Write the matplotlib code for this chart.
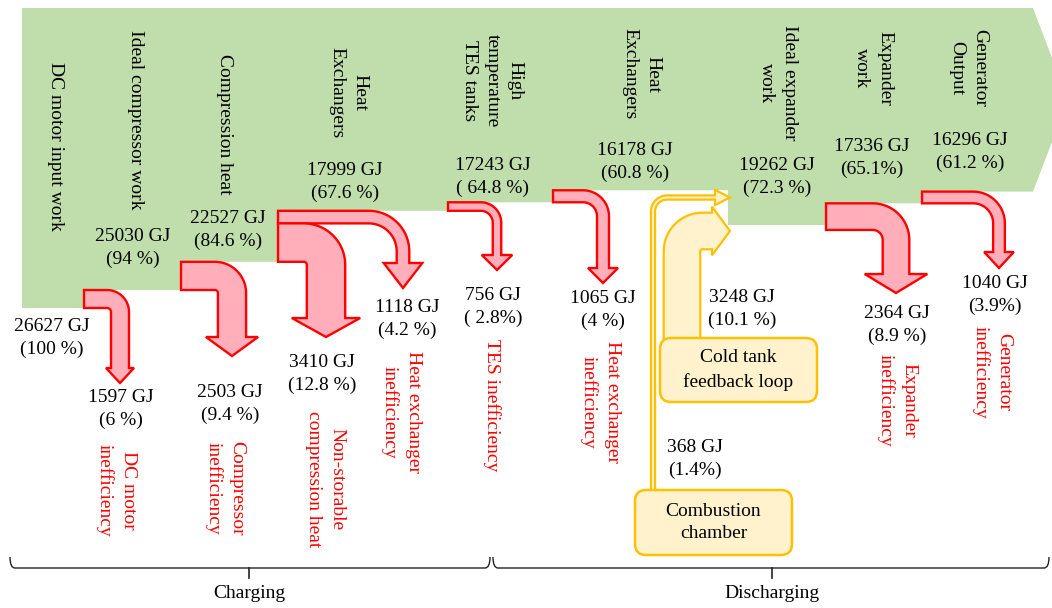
import numpy as np
import matplotlib
matplotlib.use("Agg")
import matplotlib.pyplot as plt
from matplotlib.patches import Polygon, FancyBboxPatch, PathPatch
from matplotlib.path import Path

plt.rcParams["font.family"] = ["Liberation Serif", "DejaVu Serif"]

# ---------------- data ----------------
stage_labels = ["DC motor input work", "Ideal compressor work", "Compression heat",
                "Heat\nExchangers", "High\ntemperature\nTES tanks", "Heat\nExchangers",
                "Ideal expander\nwork", "Expander\nwork", "Generator\nOutput"]
stage_gj = [26627, 25030, 22527, 17999, 17243, 16178, 19262, 17336, 16296]
stage_pct = ["100 %", "94 %", "84.6 %", "67.6 %", " 64.8 %", "60.8 %",
             "72.3 %", "65.1%", "61.2 %"]

loss_labels = ["DC motor\ninefficiency", "Compressor\ninefficiency",
               "Heat exchanger\ninefficiency", "Non-storable\ncompression heat",
               "TES inefficiency", "Heat exchanger\ninefficiency",
               "Expander\ninefficiency", "Generator\ninefficiency"]
loss_gj = [1597, 2503, 1118, 3410, 756, 1065, 2364, 1040]
loss_pct = ["6 %", "9.4 %", "4.2 %", "12.8 %", " 2.8%", "4 %", "8.9 %", "3.9%"]
# stage boundary at which each loss leaves the main flow
loss_stage = [1, 2, 3, 3, 4, 5, 7, 8]

feed_labels = ["Combustion\nchamber", "Cold tank\nfeedback loop"]
feed_gj = [368, 3248]
feed_pct = ["1.4%", "10.1 %"]

phase_labels = ["Charging", "Discharging"]

# ---------------- layout ----------------
W, H = 1052, 608
TOP = 8
BAND_PX = 300                       # height of the 100 % flow
SCALE = BAND_PX / stage_gj[0]       # pixels per GJ
FS = 14
LS = 1.45

stage_x = [22, 84, 181, 278, 448, 553, 728, 826, 922, 1033]
tip_len = 35

stage_label_pos = [(55, 146), (135, 120), (224, 124), (348, 93), (492, 81),
                   (641, 74), (778, 83), (873, 68), (968, 68)]
stage_value_pos = [(52, 338), (133, 248), (228, 230), (345, 182), (493, 177),
                   (635, 162), (777, 177), (872, 158), (970, 152)]

loss_shaft_x = [120, 232, 403, 326, 497, 603, 896, 999]
loss_tip_y = [383, 356, 288, 337, 270, 283, 293, 268]
loss_r_in = [4, 3, 28, 3, 12, 14, 10, 20]
loss_head_extra = [5, 12, 13, 15, 11, 9, 18, 9]
loss_head_len = [15, 19, 25, 19, 15, 15, 19, 16]
loss_value_pos = [(121, 409), (230, 404), (407, 319), (322, 374), (493, 307),
                  (603, 310), (897, 325), (995, 295)]
loss_label_pos = [(116, 490), (225, 488), (401, 412), (325, 479), (492, 405),
                  (600, 402), (897, 400), (992, 372)]

feed_box = [(635, 490, 157, 65), (660, 338, 157, 64)]
feed_shaft_x = [653, 682]
feed_band_y = [197.5, 231]
feed_tip_x = [730, 730]
feed_r_in = [12, 2]
feed_head_extra = [5.5, 6]
feed_head_len = [15, 18]
feed_value_pos = [(695, 459), (742, 309)]

GREEN = "#C0DDAC"
PINK = "#FFAEBA"
RED = "#FF0000"
CREAM = "#FFF2CC"
GOLD = "#FFC000"


def depth(v):
    return TOP + v * SCALE


def arc(cx, cy, r, t0, t1, n=24):
    t = np.radians(np.linspace(t0, t1, n))
    return list(zip(cx + r * np.cos(t), cy - r * np.sin(t)))


def drop_arrow(x0, y0, w, xc, y_tip, r_in, head_extra, head_len):
    """Band leaving to the right, bending down into an arrow."""
    r_out = r_in + w
    cx = xc - w / 2 - r_in
    cy = y0 + r_out
    yb = y_tip - head_len
    pts = [(x0, y0)]
    pts += arc(cx, cy, r_out, 90, 0)
    pts += [(cx + r_out, yb), (xc + w / 2 + head_extra, yb), (xc, y_tip),
            (xc - w / 2 - head_extra, yb), (cx + r_in, yb)]
    pts += arc(cx, cy, r_in, 0, 90)
    pts += [(x0, y0 + w)]
    return pts


def rise_arrow(xs, y_bot, yc, w, x_tip, r_in, head_extra, head_len):
    """Band rising from below, bending right into an arrow."""
    r_out = r_in + w
    cx = xs + w / 2 + r_in
    cy = yc + w / 2 + r_in
    xb = x_tip - head_len
    pts = [(xs - w / 2, y_bot)]
    pts += arc(cx, cy, r_out, 180, 90)
    pts += [(xb, yc - w / 2), (xb, yc - w / 2 - head_extra), (x_tip, yc),
            (xb, yc + w / 2 + head_extra), (xb, yc + w / 2)]
    pts += arc(cx, cy, r_in, 90, 180)
    pts += [(xs + w / 2, y_bot)]
    return pts


fig = plt.figure(figsize=(W / 100, H / 100), dpi=100)
ax = fig.add_axes([0, 0, 1, 1])
ax.set_xlim(0, W)
ax.set_ylim(H, 0)
ax.axis("off")

# ---- main energy flow ----
last = depth(stage_gj[-1])
outline = [(stage_x[0], TOP), (stage_x[-1], TOP),
           (stage_x[-1] + tip_len, (TOP + last) / 2), (stage_x[-1], last)]
for i in range(len(stage_gj) - 1, -1, -1):
    y = depth(stage_gj[i])
    outline += [(stage_x[i + 1], y), (stage_x[i], y)]
ax.add_patch(Polygon(outline, closed=True, fc=GREEN, ec="none", zorder=1))

# ---- losses ----
stack = {}
for i, v in enumerate(loss_gj):
    s = loss_stage[i]
    off = stack.get(s, 0.0)
    y0 = depth(stage_gj[s]) + off
    w = v * SCALE
    stack[s] = off + w
    pts = drop_arrow(stage_x[s], y0, w, loss_shaft_x[i], loss_tip_y[i],
                     loss_r_in[i], loss_head_extra[i], loss_head_len[i])
    ax.add_patch(Polygon(pts, closed=True, fc=PINK, ec=RED, lw=1.7,
                         joinstyle="miter", zorder=3))
    ax.text(*loss_value_pos[i], f"{v} GJ\n({loss_pct[i]})", ha="center",
            va="center", fontsize=FS, linespacing=LS, zorder=6)
    ax.text(*loss_label_pos[i], loss_labels[i], rotation=-90, ha="center",
            va="center", fontsize=FS, linespacing=LS, color=RED, zorder=6)

# ---- feed-ins ----
for i, v in enumerate(feed_gj):
    bx, by, bw, bh = feed_box[i]
    pts = rise_arrow(feed_shaft_x[i], by + 4, feed_band_y[i], v * SCALE,
                     feed_tip_x[i], feed_r_in[i], feed_head_extra[i],
                     feed_head_len[i])
    ax.add_patch(Polygon(pts, closed=True, fc=CREAM, ec=GOLD, lw=1.6,
                         joinstyle="miter", zorder=3))
    ax.add_patch(FancyBboxPatch((bx, by), bw, bh,
                                boxstyle="round,pad=0,rounding_size=11",
                                fc=CREAM, ec=GOLD, lw=1.8, zorder=4))
    ax.text(bx + bw / 2, by + bh / 2, feed_labels[i], ha="center", va="center",
            fontsize=FS, linespacing=LS, zorder=6)
    ax.text(*feed_value_pos[i], f"{v} GJ\n({feed_pct[i]})", ha="center",
            va="center", fontsize=FS, linespacing=LS, zorder=6)

# ---- stage labels ----
for i, v in enumerate(stage_gj):
    ax.text(*stage_label_pos[i], stage_labels[i], rotation=-90, ha="center",
            va="center", fontsize=FS, linespacing=LS, zorder=6)
    ax.text(*stage_value_pos[i], f"{v} GJ\n({stage_pct[i]})", ha="center",
            va="center", fontsize=FS, linespacing=LS, zorder=6)

# ---- phase braces ----
def brace(x0, x1, xm, y, label):
    verts = [(x0, y - 11), (x0, y), (x0 + 5, y), (x1 - 5, y), (x1, y), (x1, y - 11)]
    codes = [Path.MOVETO, Path.CURVE3, Path.CURVE3, Path.LINETO,
             Path.CURVE3, Path.CURVE3]
    ax.add_patch(PathPatch(Path(verts, codes), fc="none", ec="#222222", lw=1.0))
    ax.plot([xm, xm], [y, y + 10], color="#222222", lw=1.2)
    ax.text(xm, y + 26, label, ha="center", va="center", fontsize=FS)

brace(10, 490, 249, 568, phase_labels[0])
brace(493, 1049, 772, 568, phase_labels[1])

fig.savefig("out.png", dpi=100)
